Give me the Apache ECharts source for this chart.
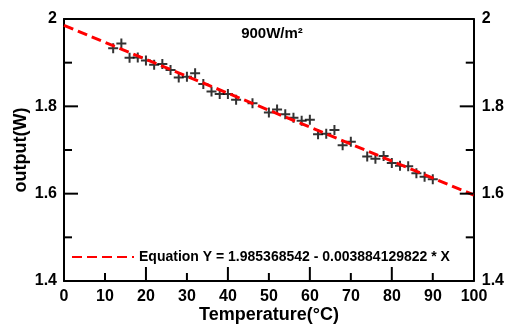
<!DOCTYPE html>
<html><head><meta charset="utf-8">
<script src="https://cdn.jsdelivr.net/npm/echarts@6/dist/echarts.min.js"></script>
<style>html,body{margin:0;padding:0;background:#fff}#c{width:507px;height:329px}</style>
</head><body><div id="c"></div>
<script>
const temperature = [12,14,16,18,20,22,24,26,28,30,32,34,36,38,40,42,46,50,52,54,56,58,60,62,64,66,68,70,74,76,78,80,82,84,86,88,90];
const output = [1.933,1.944,1.911,1.912,1.905,1.895,1.897,1.883,1.866,1.868,1.876,1.851,1.834,1.828,1.828,1.815,1.807,1.786,1.793,1.782,1.774,1.767,1.769,1.736,1.737,1.746,1.711,1.719,1.685,1.680,1.686,1.670,1.664,1.663,1.647,1.639,1.633];
const fitX = [0, 100];
const fitY = [1.985368542, 1.596955560];
const xTickLabels = ['0','10','20','30','40','50','60','70','80','90','100'];
const yTickLabels = ['1.4','1.6','1.8','2'];
const xMajorTicks = [20, 40, 60, 80];
const xMinorTicks = [10, 30, 50, 70, 90];
const yMajorTicks = [1.6, 1.8];
const yMinorTicks = [1.5, 1.7, 1.9];
const titleText = '900W/m\u00B2';
const legendText = 'Equation Y = 1.985368542 - 0.003884129822 * X';
const xName = 'Temperature(\u00B0C)';
const yName = 'output(W)';

const FF = '"Liberation Sans", Arial, sans-serif';
const BLK = '#000';
const X_MIN = 0, X_MAX = 100, Y_MIN = 1.4, Y_MAX = 2;
const xFmt = v => { const i = Math.round(v/10); return xTickLabels[i] !== undefined ? xTickLabels[i] : ''; };
const yFmt = v => { const i = Math.round((v-1.4)/0.2); return yTickLabels[i] !== undefined ? yTickLabels[i] : ''; };

const L = 64, R = 33, T = 19, B = 48;

function xTickSeries(vals, len) {
  return {type:'custom', xAxisIndex:0, yAxisIndex:0, silent:true, z:4,
    dimensions:['v'], encode:{x:0},
    data: vals.map(v => [v]),
    renderItem: (params, api) => {
      const p = api.coord([api.value(0), Y_MIN]);
      return {type:'line', shape:{x1:p[0], y1:p[1], x2:p[0], y2:p[1]-len},
        style:{stroke:BLK, lineWidth:2}};
    }};
}
function yTickSeries(vals, len) {
  return {type:'custom', xAxisIndex:0, yAxisIndex:0, silent:true, z:4,
    dimensions:['v'], encode:{y:0},
    data: vals.map(v => [v]),
    renderItem: (params, api) => {
      const v = api.value(0);
      const pl = api.coord([X_MIN, v]);
      const pr = api.coord([X_MAX, v]);
      return {type:'group', children:[
        {type:'line', shape:{x1:pl[0], y1:pl[1], x2:pl[0]+len, y2:pl[1]}, style:{stroke:BLK, lineWidth:2}},
        {type:'line', shape:{x1:pr[0], y1:pr[1], x2:pr[0]-len, y2:pr[1]}, style:{stroke:BLK, lineWidth:2}}
      ]};
    }};
}

const chart = echarts.init(document.getElementById('c'), null, {renderer:'canvas'});
chart.setOption({
  animation:false,
  title:{text:titleText, left:267, top:21, textAlign:'center',
    textStyle:{fontFamily:FF, fontSize:15, fontWeight:'bold', color:BLK}},
  legend:{data:[legendText], left:66, top:245, itemWidth:62, itemHeight:14, itemGap:6,
    itemStyle:{opacity:0},
    textStyle:{fontFamily:FF, fontSize:14, fontWeight:'bold', color:BLK}},
  grid:[{left:L, right:R, top:T, bottom:B}, {left:L, right:R, top:T, bottom:B}],
  xAxis:[
    {gridIndex:0, type:'value', min:X_MIN, max:X_MAX, interval:20, position:'bottom',
     axisLine:{show:true, onZero:false, lineStyle:{color:BLK, width:2}},
     axisTick:{show:false}, axisLabel:{show:false}, splitLine:{show:false}},
    {gridIndex:0, type:'value', min:X_MIN, max:X_MAX, interval:20, position:'top',
     axisLine:{show:true, onZero:false, lineStyle:{color:BLK, width:2}},
     axisTick:{show:false}, axisLabel:{show:false}, splitLine:{show:false}},
    {gridIndex:1, type:'value', min:X_MIN, max:X_MAX, interval:10, position:'bottom',
     axisLine:{show:false}, axisTick:{show:false}, splitLine:{show:false},
     axisLabel:{show:true, margin:15, formatter:xFmt, showMinLabel:true, showMaxLabel:true,
       fontFamily:FF, fontSize:16, fontWeight:'bold', color:BLK},
     name:xName, nameLocation:'middle', nameGap:32, nameMoveOverlap:false,
     nameTextStyle:{fontFamily:FF, fontSize:18, fontWeight:'bold', color:BLK}}
  ],
  yAxis:[
    {gridIndex:0, type:'value', min:Y_MIN, max:Y_MAX, interval:0.2, position:'left',
     axisLine:{show:true, onZero:false, lineStyle:{color:BLK, width:2}},
     axisTick:{show:false}, splitLine:{show:false},
     axisLabel:{margin:7, formatter:yFmt, showMinLabel:true, showMaxLabel:true,
       fontFamily:FF, fontSize:16, fontWeight:'bold', color:BLK},
     name:yName, nameLocation:'middle', nameGap:34, nameMoveOverlap:false,
     nameTextStyle:{fontFamily:FF, fontSize:18, fontWeight:'bold', color:BLK}},
    {gridIndex:0, type:'value', min:Y_MIN, max:Y_MAX, interval:0.2, position:'right',
     axisLine:{show:true, onZero:false, lineStyle:{color:BLK, width:2}},
     axisTick:{show:false}, splitLine:{show:false},
     axisLabel:{margin:8, formatter:yFmt, showMinLabel:true, showMaxLabel:true,
       fontFamily:FF, fontSize:16, fontWeight:'bold', color:BLK}},
    {gridIndex:1, type:'value', min:Y_MIN, max:Y_MAX, show:false}
  ],
  series:[
    {type:'scatter', xAxisIndex:0, yAxisIndex:0,
     data: temperature.map((t,i)=>[t, output[i]]),
     symbol:'path://M4,0H6V4H10V6H6V10H4V6H0V4H4Z', symbolSize:10,
     itemStyle:{color:BLK}},
    {type:'line', name:legendText, xAxisIndex:0, yAxisIndex:0,
     data: fitX.map((x,i)=>[x, fitY[i]]), symbol:'circle', showSymbol:false,
     lineStyle:{color:'#ff0000', width:3, type:[10,5]}, itemStyle:{color:'#ff0000'}, z:3},
    xTickSeries(xMajorTicks, 14),
    xTickSeries(xMinorTicks, 8),
    yTickSeries(yMajorTicks, 14),
    yTickSeries(yMinorTicks, 8)
  ]
});
</script></body></html>
